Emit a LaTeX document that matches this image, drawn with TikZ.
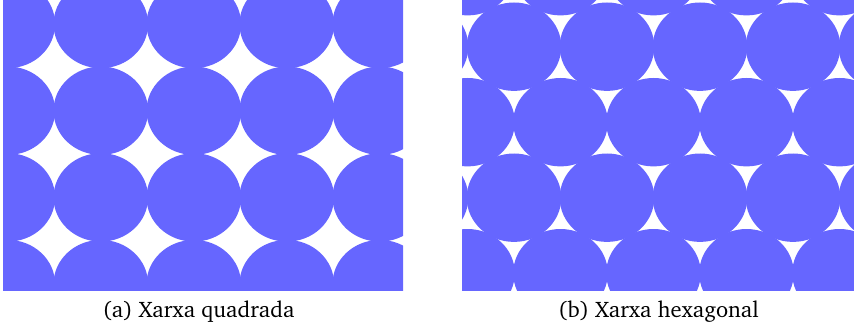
\documentclass[tikz,border=0pt]{standalone}
\usepackage[T1]{fontenc}
\usepackage{charter}
\definecolor{discblue}{HTML}{6666FF}
\tikzset{
  disc/.style={fill=discblue},
  caption/.style={anchor=base, inner sep=0pt, font=\fontsize{22.5}{27}\selectfont}
}
\begin{document}
\begin{tikzpicture}[x=1pt,y=-1pt]
\useasboundingbox (0,0) rectangle (854,326);
% (a) square lattice
\begin{scope}
  \clip (3,0) rectangle (403,290);
  \foreach \i in {-1,...,5}{
    \foreach \j in {-1,...,4}{
      \fill[disc] ({7.8+93*\i},{24+86.7*\j}) ellipse [x radius=47.3pt, y radius=44.2pt];
    }
  }
\end{scope}
% (b) hexagonal lattice
\begin{scope}
  \clip (462,0) rectangle (854,290);
  \foreach \k in {-1,...,4}{
    \pgfmathsetmacro{\off}{mod(\k+2,2)==0 ? 514 : 467.5}
    \foreach \i in {-1,...,5}{
      \fill[disc] ({\off+93*\i},{46.7+75.5*\k}) ellipse [x radius=47.3pt, y radius=44.2pt];
    }
  }
\end{scope}
\node[caption] (capa) at (198.5,317.3) {(a) Xarxa quadrada};
\node[caption] (capb) at (658.5,317.3) {(b) Xarxa hexagonal};
\end{tikzpicture}
\end{document}
